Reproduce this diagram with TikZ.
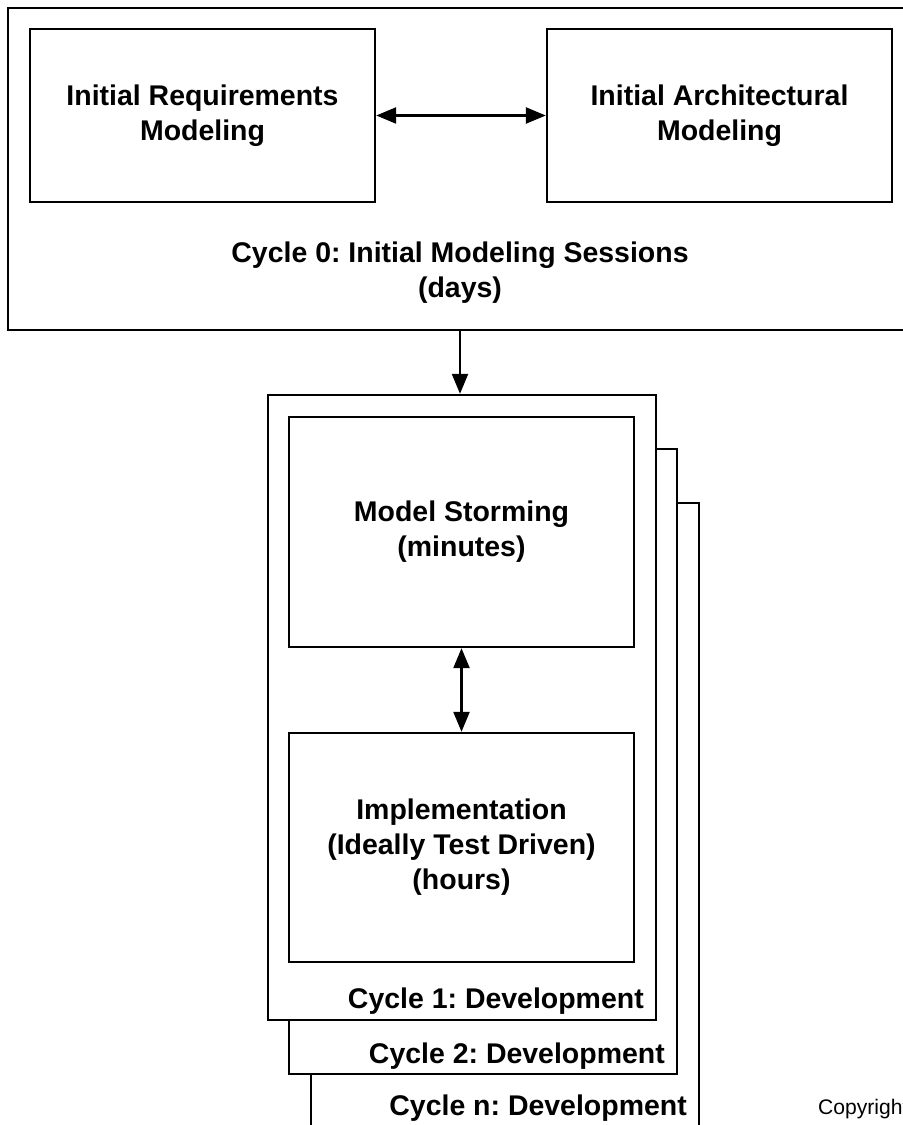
\documentclass[tikz,border=0pt]{standalone}
\usepackage{fontspec}
\setmainfont{Liberation Sans}
\usetikzlibrary{positioning,arrows.meta}
\frenchspacing

\begin{document}
\begin{tikzpicture}[x=0.1mm,y=-0.1mm,line width=0.24mm,
	font=\fontsize{8.1}{9.96}\selectfont\bfseries,
	box/.style={draw,fill=white,align=center,inner sep=0pt},
	lbl/.style={anchor=base east,inner sep=0pt},
	tip/.style={-{Triangle[length=2mm,width=1.6mm]}},
	link/.style={{Triangle[length=2mm,width=1.6mm]}-{Triangle[length=2mm,width=1.6mm]}}]
		\useasboundingbox (0,0) rectangle (903,1125);
		\clip (0,0) rectangle (903,1125);
		
		% cycle 0
		\node[box,minimum width=90.4mm,minimum height=32.2mm] (c0) at (460,169) {};
		\node[box,minimum width=34.5mm,minimum height=17.3mm] (req) at (202.5,115.5) {Initial Requirements\\Modeling};
		\node[box,minimum width=34.5mm,minimum height=17.3mm] (arch) at (719.5,115.5) {Initial Architectural\\Modeling};
		\node[align=center] (c0text) at (460,273) {Cycle 0: Initial Modeling Sessions\\(days)};
		\draw[link] (req) -- (arch);
		
		% development cycles, back to front
		\node[box,minimum width=38.8mm,minimum height=63.7mm] (cn) at (505,821.5) {};
		\node[box,minimum width=38.8mm,minimum height=62.5mm] (c2) at (483,761.5) {};
		\node[box,minimum width=38.8mm,minimum height=62.5mm] (c1) at (462,707.5) {};
		\node[box,minimum width=34.5mm,minimum height=23mm] (storm) at (461.5,532) {Model Storming\\(minutes)};
		\node[box,minimum width=34.5mm,minimum height=22.9mm] (impl) at (461.5,847.5) {Implementation\\(Ideally Test Driven)\\(hours)};
		\draw[link] (storm) -- (impl);
		\draw[tip] (c0.south) -- (c0.south |- c1.north);
		
		\node[lbl] (c1text) at (645,1008) {Cycle 1: Development};
		\node[lbl] (c2text) at (666,1063) {Cycle 2: Development};
		\node[lbl] (cntext) at (688,1115) {Cycle n: Development};
		\node[anchor=base west,inner sep=0pt,font=\fontsize{6}{7}\selectfont] (copy) at (817,1114) {Copyright};
	\end{tikzpicture}
\end{document}
